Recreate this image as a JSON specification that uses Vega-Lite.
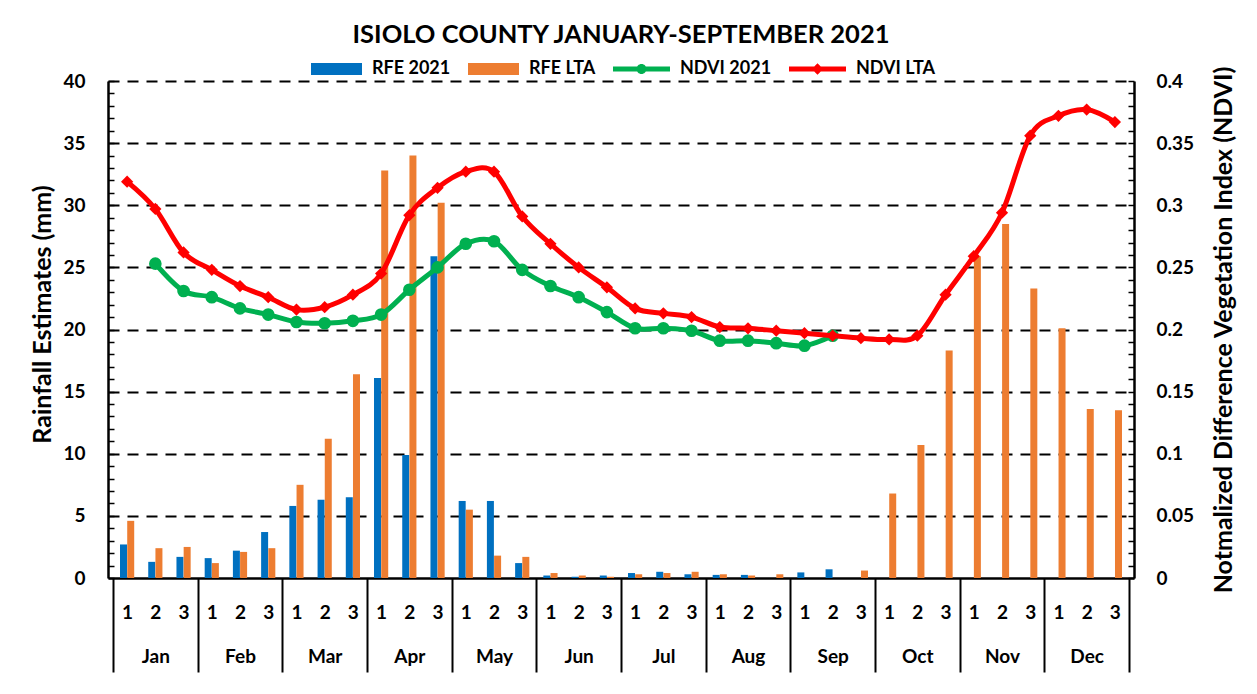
{
  "$schema": "https://vega.github.io/schema/vega-lite/v6.json",
  "width": 1026,
  "height": 497,
  "autosize": {"type": "none"},
  "padding": {"left": 108, "top": 81, "right": 123, "bottom": 116},
  "background": "white",
  "title": {
    "text": "ISIOLO COUNTY JANUARY-SEPTEMBER 2021",
    "font": "Lato",
    "fontSize": 25.5,
    "fontWeight": "bold",
    "color": "black",
    "anchor": "middle",
    "offset": 12
  },
  "config": {
    "view": {"stroke": null},
    "axis": {
      "labelFont": "Lato",
      "labelFontWeight": "bold",
      "labelColor": "black",
      "labelOverlap": false,
      "labelFlush": false,
      "labelBound": false,
      "titleFont": "Lato",
      "titleFontWeight": "bold",
      "titleColor": "black",
      "domainColor": "black",
      "tickColor": "black"
    }
  },
  "data": {
    "values": [
      {"k": 1, "month": "Jan", "rfe2021": 2.7, "rfeLta": 4.6, "ndvi2021": null, "ndviLta": 0.319},
      {"k": 2, "month": "Jan", "rfe2021": 1.3, "rfeLta": 2.4, "ndvi2021": 0.253, "ndviLta": 0.297},
      {"k": 3, "month": "Jan", "rfe2021": 1.7, "rfeLta": 2.5, "ndvi2021": 0.231, "ndviLta": 0.262},
      {"k": 4, "month": "Feb", "rfe2021": 1.6, "rfeLta": 1.2, "ndvi2021": 0.226, "ndviLta": 0.248},
      {"k": 5, "month": "Feb", "rfe2021": 2.2, "rfeLta": 2.1, "ndvi2021": 0.217, "ndviLta": 0.235},
      {"k": 6, "month": "Feb", "rfe2021": 3.7, "rfeLta": 2.4, "ndvi2021": 0.212, "ndviLta": 0.226},
      {"k": 7, "month": "Mar", "rfe2021": 5.8, "rfeLta": 7.5, "ndvi2021": 0.206, "ndviLta": 0.216},
      {"k": 8, "month": "Mar", "rfe2021": 6.3, "rfeLta": 11.2, "ndvi2021": 0.205, "ndviLta": 0.218},
      {"k": 9, "month": "Mar", "rfe2021": 6.5, "rfeLta": 16.4, "ndvi2021": 0.207, "ndviLta": 0.228},
      {"k": 10, "month": "Apr", "rfe2021": 16.1, "rfeLta": 32.8, "ndvi2021": 0.212, "ndviLta": 0.245},
      {"k": 11, "month": "Apr", "rfe2021": 9.9, "rfeLta": 34.0, "ndvi2021": 0.232, "ndviLta": 0.292},
      {"k": 12, "month": "Apr", "rfe2021": 25.9, "rfeLta": 30.2, "ndvi2021": 0.250, "ndviLta": 0.314},
      {"k": 13, "month": "May", "rfe2021": 6.2, "rfeLta": 5.5, "ndvi2021": 0.269, "ndviLta": 0.327},
      {"k": 14, "month": "May", "rfe2021": 6.2, "rfeLta": 1.8, "ndvi2021": 0.271, "ndviLta": 0.327},
      {"k": 15, "month": "May", "rfe2021": 1.2, "rfeLta": 1.7, "ndvi2021": 0.248, "ndviLta": 0.291},
      {"k": 16, "month": "Jun", "rfe2021": 0.2, "rfeLta": 0.4, "ndvi2021": 0.235, "ndviLta": 0.269},
      {"k": 17, "month": "Jun", "rfe2021": 0.1, "rfeLta": 0.2, "ndvi2021": 0.226, "ndviLta": 0.250},
      {"k": 18, "month": "Jun", "rfe2021": 0.2, "rfeLta": 0.1, "ndvi2021": 0.214, "ndviLta": 0.234},
      {"k": 19, "month": "Jul", "rfe2021": 0.4, "rfeLta": 0.3, "ndvi2021": 0.201, "ndviLta": 0.217},
      {"k": 20, "month": "Jul", "rfe2021": 0.5, "rfeLta": 0.4, "ndvi2021": 0.201, "ndviLta": 0.213},
      {"k": 21, "month": "Jul", "rfe2021": 0.3, "rfeLta": 0.5, "ndvi2021": 0.199, "ndviLta": 0.210},
      {"k": 22, "month": "Aug", "rfe2021": 0.25, "rfeLta": 0.3, "ndvi2021": 0.191, "ndviLta": 0.202},
      {"k": 23, "month": "Aug", "rfe2021": 0.25, "rfeLta": 0.2, "ndvi2021": 0.191, "ndviLta": 0.201},
      {"k": 24, "month": "Aug", "rfe2021": 0, "rfeLta": 0.3, "ndvi2021": 0.189, "ndviLta": 0.199},
      {"k": 25, "month": "Sep", "rfe2021": 0.45, "rfeLta": 0, "ndvi2021": 0.187, "ndviLta": 0.197},
      {"k": 26, "month": "Sep", "rfe2021": 0.7, "rfeLta": 0, "ndvi2021": 0.195, "ndviLta": 0.195},
      {"k": 27, "month": "Sep", "rfe2021": 0, "rfeLta": 0.6, "ndvi2021": null, "ndviLta": 0.193},
      {"k": 28, "month": "Oct", "rfe2021": null, "rfeLta": 6.8, "ndvi2021": null, "ndviLta": 0.192},
      {"k": 29, "month": "Oct", "rfe2021": null, "rfeLta": 10.7, "ndvi2021": null, "ndviLta": 0.195},
      {"k": 30, "month": "Oct", "rfe2021": null, "rfeLta": 18.3, "ndvi2021": null, "ndviLta": 0.228},
      {"k": 31, "month": "Nov", "rfe2021": null, "rfeLta": 25.9, "ndvi2021": null, "ndviLta": 0.259},
      {"k": 32, "month": "Nov", "rfe2021": null, "rfeLta": 28.5, "ndvi2021": null, "ndviLta": 0.294},
      {"k": 33, "month": "Nov", "rfe2021": null, "rfeLta": 23.3, "ndvi2021": null, "ndviLta": 0.356},
      {"k": 34, "month": "Dec", "rfe2021": null, "rfeLta": 20.1, "ndvi2021": null, "ndviLta": 0.372},
      {"k": 35, "month": "Dec", "rfe2021": null, "rfeLta": 13.6, "ndvi2021": null, "ndviLta": 0.377},
      {"k": 36, "month": "Dec", "rfe2021": null, "rfeLta": 13.5, "ndvi2021": null, "ndviLta": 0.367}
    ]
  },
  "resolve": {
    "scale": {"y": "independent"},
    "axis": {"x": "independent", "y": "independent"}
  },
  "layer": [
    {
      "mark": {"type": "bar", "orient": "vertical", "size": 7, "xOffset": -3.6},
      "encoding": {
        "x": {
          "field": "k", "type": "quantitative",
          "scale": {"domain": [0.5, 36.5], "nice": false, "zero": false},
          "axis": {
            "orient": "bottom",
            "values": [1,2,3,4,5,6,7,8,9,10,11,12,13,14,15,16,17,18,19,20,21,22,23,24,25,26,27,28,29,30,31,32,33,34,35,36],
            "labelExpr": "toString((datum.value - 1) % 3 + 1)",
            "ticks": false,
            "grid": false,
            "domain": true,
            "domainWidth": 2.5,
            "labelFontSize": 19,
            "labelPadding": 25,
            "title": null
          }
        },
        "y": {
          "field": "rfe2021", "type": "quantitative",
          "scale": {"domain": [0, 40], "nice": false},
          "axis": {
            "orient": "left",
            "values": [0,1,2,3,4,5,6,7,8,9,10,11,12,13,14,15,16,17,18,19,20,21,22,23,24,25,26,27,28,29,30,31,32,33,34,35,36,37,38,39,40],
            "labelExpr": "datum.value % 5 === 0 ? toString(datum.value) : ''",
            "grid": true,
            "gridColor": "black",
            "gridDash": [11, 8],
            "gridWidth": 2,
            "gridOpacity": {"condition": {"test": "datum.value % 5 === 0 && datum.value > 0", "value": 1}, "value": 0},
            "tickSize": -6,
            "tickWidth": 1.5,
            "domainWidth": 2.5,
            "labelFontSize": 19,
            "labelPadding": 29,
            "title": "Rainfall Estimates (mm)",
            "titleFontSize": 25,
            "titlePadding": 7,
            "titleY": 233
          }
        },
        "color": {
          "datum": "RFE 2021",
          "type": "nominal",
          "scale": {
            "domain": ["RFE 2021", "RFE LTA", "NDVI 2021", "NDVI LTA"],
            "range": ["#0070C0", "#ED7D31", "#00B050", "#FF0000"]
          },
          "legend": {
            "title": null,
            "orient": "none",
            "legendX": 240,
            "legendY": -21,
            "direction": "horizontal",
            "labelFont": "Lato",
            "labelFontSize": 18,
            "labelFontWeight": "bold",
            "labelColor": "black",
            "symbolSize": 100,
            "symbolStrokeWidth": 0,
            "labelOffset": 6,
            "columnPadding": 17,
            "encode": {
              "symbols": {
                "update": {
                  "shape": {"signal": "datum.value === 'NDVI 2021' ? 'M-10.4,-0.5H1V0.5H-10.4Z M-3.7,0A1,1 0 1,1 -5.7,0A1,1 0 1,1 -3.7,0Z' : datum.value === 'NDVI LTA' ? 'M-10.4,-0.5H1V0.5H-10.4Z M-4.7,-1.15L-3.55,0L-4.7,1.15L-5.85,0Z' : 'M-9.2,-1.2H1V1.2H-9.2Z'"},
                  "fill": {"scale": "color", "field": "value"},
                  "stroke": {"value": "transparent"},
                  "opacity": {"value": 1}
                }
              }
            }
          }
        }
      }
    },
    {
      "mark": {"type": "bar", "orient": "vertical", "size": 7, "xOffset": 3.6},
      "encoding": {
        "x": {"field": "k", "type": "quantitative", "axis": null},
        "y": {"field": "rfeLta", "type": "quantitative", "scale": {"domain": [0, 40], "nice": false}, "axis": null},
        "color": {"datum": "RFE LTA", "type": "nominal"}
      }
    },
    {
      "mark": {"type": "line", "interpolate": "cardinal", "strokeWidth": 5},
      "encoding": {
        "x": {
          "field": "k", "type": "quantitative",
          "axis": {
            "orient": "bottom",
            "values": [2,5,8,11,14,17,20,23,26,29,32,35],
            "labelExpr": "['Jan','Feb','Mar','Apr','May','Jun','Jul','Aug','Sep','Oct','Nov','Dec'][floor((datum.value - 1) / 3)]",
            "ticks": false,
            "grid": false,
            "domain": false,
            "labelFontSize": 19,
            "labelPadding": 69,
            "title": null
          }
        },
        "y": {
          "field": "ndvi2021", "type": "quantitative",
          "scale": {"domain": [0, 0.4], "nice": false},
          "axis": {
            "orient": "right",
            "values": [0,0.01,0.02,0.03,0.04,0.05,0.06,0.07,0.08,0.09,0.1,0.11,0.12,0.13,0.14,0.15,0.16,0.17,0.18,0.19,0.2,0.21,0.22,0.23,0.24,0.25,0.26,0.27,0.28,0.29,0.3,0.31,0.32,0.33,0.34,0.35,0.36,0.37,0.38,0.39,0.4],
            "labelExpr": "round(datum.value * 100) % 5 === 0 ? toString(round(datum.value * 100) / 100) : ''",
            "grid": false,
            "tickSize": -6,
            "tickWidth": 1.5,
            "domainWidth": 2.5,
            "labelFontSize": 19,
            "labelPadding": 28,
            "title": "Notmalized Difference Vegetation Index (NDVI)",
            "titleFontSize": 25,
            "titleAngle": 270,
            "titleBaseline": "top",
            "titlePadding": 18
          }
        },
        "color": {"datum": "NDVI 2021", "type": "nominal"}
      }
    },
    {
      "mark": {"type": "point", "filled": true, "opacity": 1, "shape": "circle", "size": 160},
      "encoding": {
        "x": {"field": "k", "type": "quantitative", "axis": null},
        "y": {"field": "ndvi2021", "type": "quantitative", "scale": {"domain": [0, 0.4], "nice": false}, "axis": null},
        "color": {"datum": "NDVI 2021", "type": "nominal"}
      }
    },
    {
      "mark": {"type": "line", "interpolate": "cardinal", "strokeWidth": 5},
      "encoding": {
        "x": {
          "field": "k", "type": "quantitative",
          "axis": {
            "orient": "bottom",
            "values": [0.5,3.5,6.5,9.5,12.5,15.5,18.5,21.5,24.5,27.5,30.5,33.5,36.5],
            "labels": false,
            "ticks": true,
            "tickSize": 94,
            "tickWidth": 2,
            "grid": false,
            "domain": false,
            "title": null
          }
        },
        "y": {"field": "ndviLta", "type": "quantitative", "scale": {"domain": [0, 0.4], "nice": false}, "axis": null},
        "color": {"datum": "NDVI LTA", "type": "nominal"}
      }
    },
    {
      "mark": {"type": "point", "filled": true, "opacity": 1, "shape": "diamond", "size": 150},
      "encoding": {
        "x": {"field": "k", "type": "quantitative", "axis": null},
        "y": {"field": "ndviLta", "type": "quantitative", "scale": {"domain": [0, 0.4], "nice": false}, "axis": null},
        "color": {"datum": "NDVI LTA", "type": "nominal"}
      }
    }
  ]
}
